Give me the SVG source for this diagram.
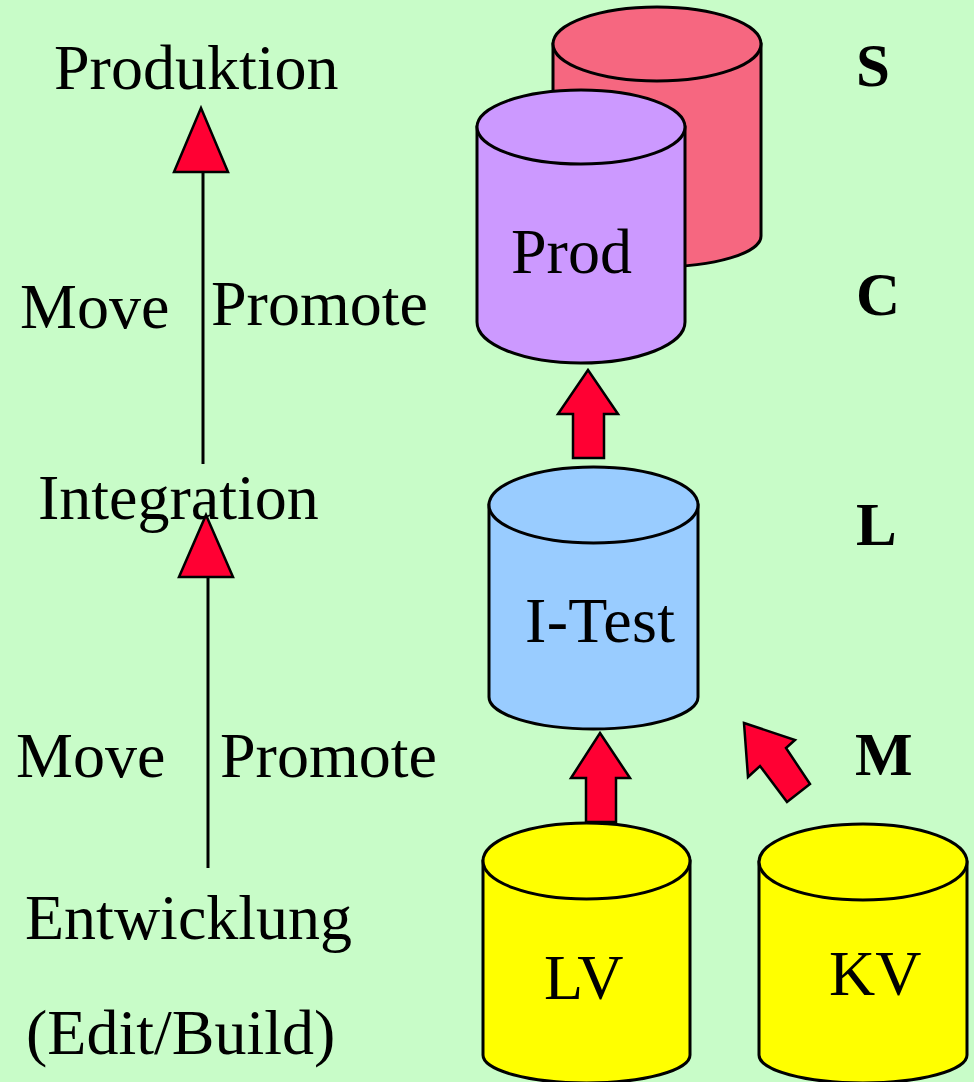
<svg xmlns="http://www.w3.org/2000/svg" width="974" height="1082" viewBox="0 0 974 1082">
<style>
.t{font-family:"Liberation Serif","Times New Roman",serif;font-size:64px;fill:#000}
.b{font-family:"Liberation Serif","Times New Roman",serif;font-size:61px;font-weight:bold;fill:#000}
.cyl{stroke:#000;stroke-width:3}
.ar{fill:#FF0033;stroke:#000;stroke-width:2.5;stroke-linejoin:miter}
.ln{stroke:#000;stroke-width:3;fill:none}
</style>
<rect x="0" y="0" width="974" height="1082" fill="#C8FCC8"/>

<g id="S-db">
<path class="cyl" fill="#F66780" d="M553,44 L553,236 A104,31 0 0 0 761,236 L761,44 Z"/>
<ellipse class="cyl" fill="#F66780" cx="657" cy="44" rx="104" ry="37"/>
</g>

<g id="prod-db">
<path class="cyl" fill="#CC99FF" d="M477,127 L477,322 A104,41 0 0 0 685,322 L685,127 Z"/>
<ellipse class="cyl" fill="#CC99FF" cx="581" cy="127" rx="104" ry="37"/>
<text class="t" x="511" y="273">Prod</text>
</g>

<g id="itest-db">
<path class="cyl" fill="#99CCFF" d="M489,505 L489,697 A104.5,32 0 0 0 698,697 L698,505 Z"/>
<ellipse class="cyl" fill="#99CCFF" cx="593.5" cy="505" rx="104.5" ry="38"/>
<text class="t" x="525" y="642" textLength="150">I-Test</text>
</g>

<g id="lv-db">
<path class="cyl" fill="#FFFF00" d="M483,861 L483,1055 A103.5,28 0 0 0 690,1055 L690,861 Z"/>
<ellipse class="cyl" fill="#FFFF00" cx="586.5" cy="861" rx="103.5" ry="38"/>
<text class="t" x="544" y="999">LV</text>
</g>

<g id="kv-db">
<path class="cyl" fill="#FFFF00" d="M759,862 L759,1055 A104,28 0 0 0 967,1055 L967,862 Z"/>
<ellipse class="cyl" fill="#FFFF00" cx="863" cy="862" rx="104" ry="38"/>
<text class="t" x="829" y="995">KV</text>
</g>

<g id="left-labels">
<text class="t" x="54" y="89">Produktion</text>
<text class="t" x="20" y="328">Move</text>
<text class="t" x="211" y="325">Promote</text>
<text class="t" x="38" y="519">Integration</text>
<text class="t" x="16" y="777">Move</text>
<text class="t" x="220" y="777">Promote</text>
<text class="t" x="25" y="939">Entwicklung</text>
<text class="t" x="26" y="1054">(Edit/Build)</text>
</g>

<g id="right-labels">
<text class="b" x="856" y="86">S</text>
<text class="b" x="856" y="315">C</text>
<text class="b" x="856" y="545">L</text>
<text class="b" x="855" y="775">M</text>
</g>

<g id="connectors">
<line class="ln" x1="203" y1="172" x2="203" y2="464"/>
<polygon class="ar" points="201,108 228,172 174,172"/>
<line class="ln" x1="208" y1="577" x2="208" y2="868"/>
<polygon class="ar" points="206,515 233,577 179,577"/>
<polygon class="ar" points="588,370 618,414 604,414 604,458 573,458 573,414 558,414"/>
<polygon class="ar" points="600,733 630,778 616,778 616,822 586,822 586,778 571,778"/>
<polygon class="ar" points="744,723 795,740 786,748 810,784 787,802 760,766 748,777"/>
</g>
</svg>
